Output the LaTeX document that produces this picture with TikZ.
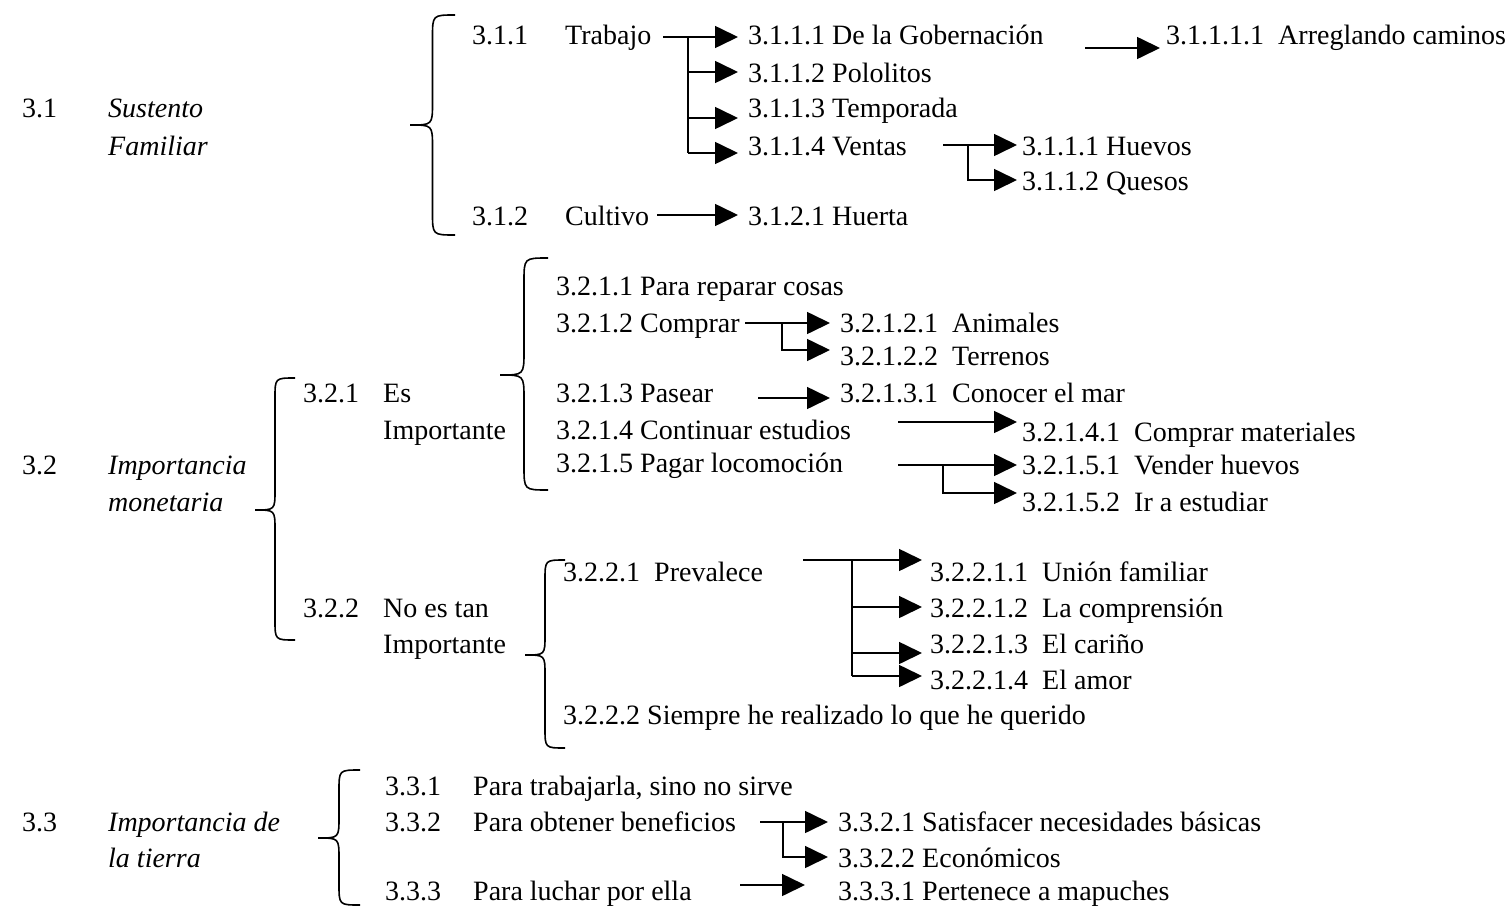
\documentclass[tikz,border=0pt]{standalone}
\usepackage{fontspec}
\setmainfont{Liberation Serif}
\usetikzlibrary{arrows.meta}

% llave: x derecha, x punta, y arriba, y abajo, y punta
\newcommand{\llave}[5]{%
  \pgfmathsetmacro{\llxm}{(#1+#2)/2}%
  \pgfmathsetmacro{\llr}{(#1-#2)/2}%
  \draw[linea] (#1,#3) .. controls (\llxm,#3) .. (\llxm,#3+\llr) -- (\llxm,#5-\llr) .. controls (\llxm,#5) .. (#2,#5) .. controls (\llxm,#5) .. (\llxm,#5+\llr) -- (\llxm,#4-\llr) .. controls (\llxm,#4) .. (#1,#4);}

\begin{document}
\begin{tikzpicture}[x=1pt, y=-1pt,
  linea/.style={black, line width=1.6pt},
  flecha/.style={linea, -{Triangle[length=23pt, width=22pt]}, shorten >=#1},
  flecha/.default=10pt]
\tikzstyle{every node}+=[inner sep=0pt, anchor=base west, font=\fontsize{28}{34}\selectfont]
\useasboundingbox (0,0) rectangle (1512,907);

% 3.1
\node (n31) at (22,117) {3.1};
\node (sustento) at (108,117) {\textit{Sustento}};
\node (familiar) at (108,155) {\textit{Familiar}};
\llave{455}{410}{15}{235}{125}
\node (n311) at (472,45) {3.1.1};
\node (trabajo) at (565,45) {Trabajo};
\node (n312) at (472,225) {3.1.2};
\node (cultivo) at (565,225) {Cultivo};
\node (gobernacion) at (748,45) {3.1.1.1 De la Gobernación};
\node (pololitos) at (748,82) {3.1.1.2 Pololitos};
\node (temporada) at (748,117) {3.1.1.3 Temporada};
\node (ventas) at (748,155) {3.1.1.4 Ventas};
\node (caminos) at (1166,45) {3.1.1.1.1~~Arreglando caminos};
\node (huevos) at (1022,155) {3.1.1.1 Huevos};
\node (quesos) at (1022,190) {3.1.1.2 Quesos};
\node (huerta) at (748,225) {3.1.2.1 Huerta};

\coordinate (o-trabajo) at (663,37);
\coordinate (j-trabajo) at (688,37);
\coordinate (j-trabajo-b) at (688,153);
\draw[flecha] (o-trabajo) -- (o-trabajo -| gobernacion.west);
\draw[linea] (j-trabajo) -- (j-trabajo-b);
\foreach \yy/\dest in {72/pololitos, 118/temporada, 153/ventas}
  \draw[flecha] (688,\yy) -- (688,\yy -| \dest.west);
\coordinate (o-gob) at (1085,48);
\draw[flecha=6pt] (o-gob) -- (o-gob -| caminos.west);
\coordinate (o-ventas) at (943,145);
\coordinate (j-ventas) at (968,145);
\coordinate (j-ventas-b) at (968,180);
\draw[flecha=5pt] (o-ventas) -- (o-ventas -| huevos.west);
\draw[flecha=5pt] (j-ventas) -- (j-ventas-b) -- (j-ventas-b -| quesos.west);
\coordinate (o-cultivo) at (657,215);
\draw[flecha] (o-cultivo) -- (o-cultivo -| huerta.west);

% 3.2
\node (n32) at (22,474) {3.2};
\node (importancia) at (108,474) {\textit{Importancia}};
\node (monetaria) at (108,511) {\textit{monetaria}};
\llave{295}{255}{378}{640}{510}
\node (n321) at (303,402) {3.2.1};
\node (es) at (383,402) {Es};
\node (imp-a) at (383,439) {Importante};
\node (n322) at (303,617) {3.2.2};
\node (noes) at (383,617) {No es tan};
\node (imp-b) at (383,653) {Importante};

\llave{548}{500}{258}{490}{375}
\node (reparar) at (556,295) {3.2.1.1 Para reparar cosas};
\node (comprar) at (556,332) {3.2.1.2 Comprar};
\node (pasear) at (556,402) {3.2.1.3 Pasear};
\node (estudios) at (556,439) {3.2.1.4 Continuar estudios};
\node (locomocion) at (556,472) {3.2.1.5 Pagar locomoción};
\node (animales) at (840,332) {3.2.1.2.1~~Animales};
\node (terrenos) at (840,365) {3.2.1.2.2~~Terrenos};
\node (mar) at (840,402) {3.2.1.3.1~~Conocer el mar};
\node (materiales) at (1022,441) {3.2.1.4.1~~Comprar materiales};
\node (vender) at (1022,474) {3.2.1.5.1~~Vender huevos};
\node (estudiar) at (1022,511) {3.2.1.5.2~~Ir a estudiar};

\coordinate (o-comprar) at (745,323);
\coordinate (j-comprar) at (782,323);
\coordinate (j-comprar-b) at (782,350);
\draw[flecha] (o-comprar) -- (o-comprar -| animales.west);
\draw[flecha] (j-comprar) -- (j-comprar-b) -- (j-comprar-b -| terrenos.west);
\coordinate (o-pasear) at (758,398);
\draw[flecha] (o-pasear) -- (o-pasear -| mar.west);
\coordinate (o-estudios) at (898,422);
\draw[flecha=5pt] (o-estudios) -- (o-estudios -| materiales.west);
\coordinate (o-locom) at (898,465);
\coordinate (j-locom) at (943,465);
\coordinate (j-locom-b) at (943,493);
\draw[flecha=5pt] (o-locom) -- (o-locom -| vender.west);
\draw[flecha=5pt] (j-locom) -- (j-locom-b) -- (j-locom-b -| estudiar.west);

\llave{565}{525}{560}{748}{655}
\node (prevalece) at (563,581) {3.2.2.1~~Prevalece};
\node (union) at (930,581) {3.2.2.1.1~~Unión familiar};
\node (comprension) at (930,617) {3.2.2.1.2~~La comprensión};
\node (carino) at (930,653) {3.2.2.1.3~~El cariño};
\node (amor) at (930,689) {3.2.2.1.4~~El amor};
\node (siempre) at (563,724) {3.2.2.2 Siempre he realizado lo que he querido};

\coordinate (o-prev) at (803,560);
\coordinate (j-prev) at (852,560);
\coordinate (j-prev-b) at (852,676);
\draw[flecha=8pt] (o-prev) -- (o-prev -| union.west);
\draw[linea] (j-prev) -- (j-prev-b);
\foreach \yy/\dest in {607/comprension, 653/carino, 676/amor}
  \draw[flecha=8pt] (852,\yy) -- (852,\yy -| \dest.west);

% 3.3
\node (n33) at (22,831) {3.3};
\node (imp-c) at (108,831) {\textit{Importancia de}};
\node (tierra) at (108,867) {\textit{la tierra}};
\llave{360}{318}{770}{905}{838}
\node (n331) at (385,795) {3.3.1};
\node (trabajarla) at (473,795) {Para trabajarla, sino no sirve};
\node (n332) at (385,831) {3.3.2};
\node (beneficios) at (473,831) {Para obtener beneficios};
\node (n333) at (385,900) {3.3.3};
\node (luchar) at (473,900) {Para luchar por ella};
\node (basicas) at (838,831) {3.3.2.1 Satisfacer necesidades básicas};
\node (economicos) at (838,867) {3.3.2.2 Económicos};
\node (mapuches) at (838,900) {3.3.3.1 Pertenece a mapuches};

\coordinate (o-benef) at (760,822);
\coordinate (j-benef) at (783,822);
\coordinate (j-benef-b) at (783,857);
\draw[flecha] (o-benef) -- (o-benef -| basicas.west);
\draw[flecha] (j-benef) -- (j-benef-b) -- (j-benef-b -| economicos.west);
\coordinate (o-luchar) at (740,885);
\draw[flecha=33pt] (o-luchar) -- (o-luchar -| mapuches.west);
\end{tikzpicture}
\end{document}
